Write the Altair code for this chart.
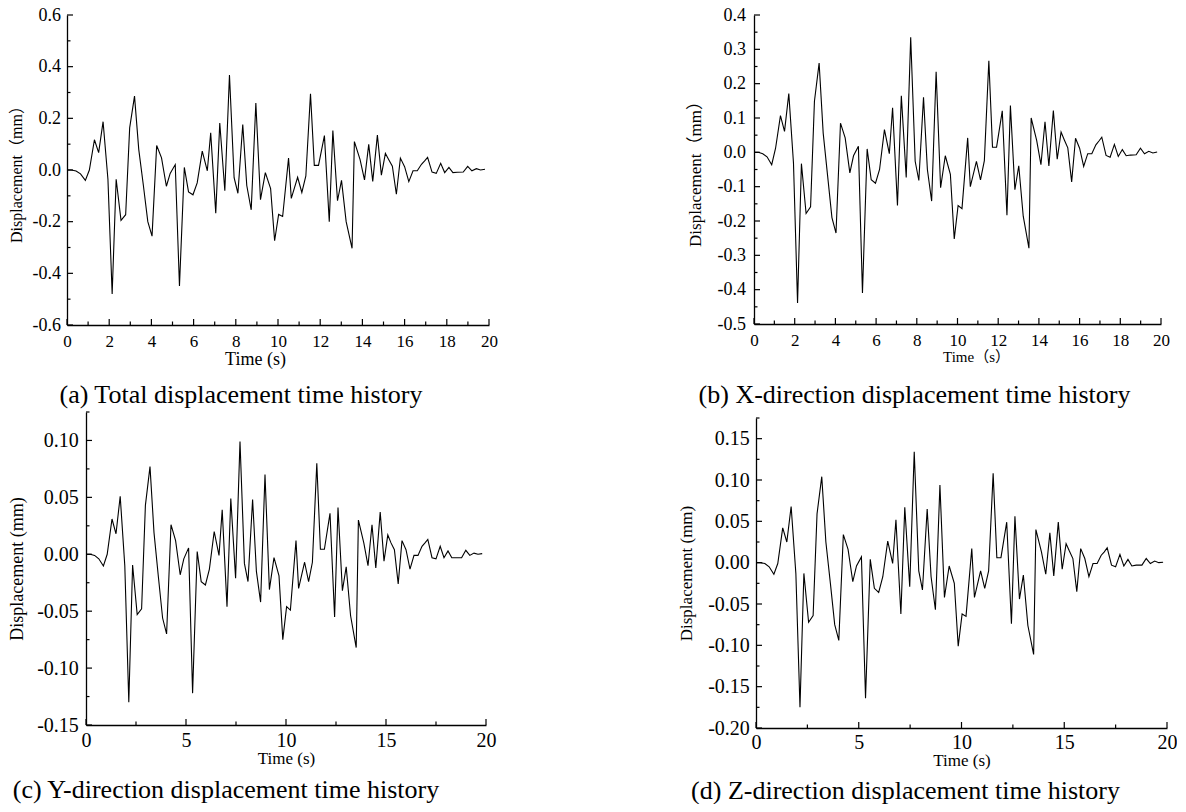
import altair as alt
import pandas as pd

SERIF = "Liberation Serif, Noto Sans CJK SC"

# ---- data ----
TIME = [0.0, 0.21, 0.43, 0.64, 0.87, 1.06, 1.30, 1.50, 1.71, 1.94,
        2.14, 2.33, 2.56, 2.78, 2.97, 3.20, 3.40, 3.62, 3.83, 4.03,
        4.25, 4.48, 4.71, 4.89, 5.13, 5.33, 5.56, 5.76, 5.97, 6.17,
        6.41, 6.65, 6.81, 7.05, 7.24, 7.48, 7.70, 7.92, 8.10, 8.33,
        8.52, 8.73, 8.95, 9.17, 9.40, 9.65, 9.84, 10.03, 10.22, 10.50,
        10.63, 10.93, 11.13, 11.32, 11.54, 11.72, 11.92, 12.20, 12.43, 12.60,
        12.82, 13.01, 13.23, 13.51, 13.62, 13.89, 14.10, 14.30, 14.49, 14.71,
        14.90, 15.09, 15.25, 15.42, 15.61, 15.80, 16.00, 16.20, 16.40, 16.60,
        16.80, 16.95, 17.09, 17.30, 17.50, 17.71, 17.90, 18.10, 18.29, 18.50,
        18.78, 18.99, 19.19, 19.40, 19.60, 19.81]

TOTAL = [0.0, 0.0, -0.004, -0.015, -0.04, 0.0, 0.117, 0.067, 0.187, -0.036,
         -0.48, -0.036, -0.195, -0.173, 0.163, 0.286, 0.08, -0.06, -0.2, -0.256,
         0.095, 0.047, -0.063, -0.013, 0.021, -0.449, 0.01, -0.085, -0.096, -0.05,
         0.073, -0.003, 0.144, -0.167, 0.182, -0.08, 0.368, -0.03, -0.09, 0.176,
         -0.06, -0.154, 0.259, -0.115, -0.01, -0.072, -0.274, -0.172, -0.18, 0.046,
         -0.11, -0.028, -0.087, -0.023, 0.295, 0.018, 0.018, 0.133, -0.2, 0.153,
         -0.119, -0.04, -0.2, -0.303, 0.11, 0.04, -0.038, 0.099, -0.044, 0.135,
         -0.02, 0.064, 0.04, 0.015, -0.094, 0.046, 0.013, -0.045, -0.003, -0.003,
         0.022, 0.035, 0.049, -0.008, -0.013, 0.026, -0.01, 0.01, -0.01, -0.009,
         -0.008, 0.014, -0.003, 0.005, 0.0, 0.003]

X_DIR = [0.0, 0.0, -0.004, -0.013, -0.036, 0.012, 0.107, 0.061, 0.171, -0.031,
         -0.439, -0.033, -0.178, -0.159, 0.149, 0.26, 0.056, -0.07, -0.19, -0.235,
         0.085, 0.042, -0.06, -0.01, 0.018, -0.41, 0.01, -0.08, -0.09, -0.05,
         0.066, -0.004, 0.13, -0.155, 0.165, -0.073, 0.335, -0.026, -0.082, 0.16,
         -0.05, -0.142, 0.235, -0.103, -0.01, -0.064, -0.252, -0.155, -0.164, 0.042,
         -0.1, -0.026, -0.08, -0.024, 0.267, 0.015, 0.015, 0.121, -0.183, 0.136,
         -0.109, -0.039, -0.186, -0.279, 0.1, 0.035, -0.036, 0.089, -0.04, 0.122,
         -0.02, 0.059, 0.036, 0.013, -0.086, 0.041, 0.012, -0.041, -0.004, -0.004,
         0.022, 0.033, 0.044, -0.009, -0.014, 0.023, -0.012, 0.008, -0.01, -0.008,
         -0.007, 0.012, -0.004, 0.003, -0.002, 0.001]

Y_DIR = [0.0, 0.0, -0.001, -0.004, -0.0103, 0.0, 0.031, 0.018, 0.051, -0.01,
         -0.13, -0.0094, -0.053, -0.048, 0.043, 0.077, 0.019, -0.02, -0.056, -0.07,
         0.026, 0.012, -0.018, -0.004, 0.0056, -0.122, 0.0024, -0.024, -0.027, -0.013,
         0.02, -0.001, 0.039, -0.046, 0.049, -0.021, 0.099, -0.008, -0.024, 0.048,
         -0.015, -0.042, 0.07, -0.031, -0.003, -0.019, -0.075, -0.046, -0.049, 0.012,
         -0.03, -0.007, -0.024, -0.007, 0.08, 0.0044, 0.0044, 0.036, -0.055, 0.041,
         -0.032, -0.011, -0.054, -0.082, 0.03, 0.01, -0.01, 0.026, -0.012, 0.037,
         -0.006, 0.017, 0.01, 0.004, -0.026, 0.012, 0.004, -0.013, -0.001, -0.001,
         0.007, 0.01, 0.013, -0.003, -0.004, 0.007, -0.003, 0.003, -0.003, -0.003,
         -0.003, 0.0035, -0.001, 0.001, 0.0, 0.0006]

Z_DIR = [0.0, 0.0, -0.001, -0.005, -0.014, -0.001, 0.042, 0.025, 0.068, -0.013,
         -0.175, -0.013, -0.072, -0.064, 0.059, 0.104, 0.025, -0.025, -0.075, -0.094,
         0.034, 0.016, -0.023, -0.004, 0.007, -0.164, 0.004, -0.031, -0.036, -0.017,
         0.026, -0.001, 0.052, -0.062, 0.067, -0.029, 0.134, -0.01, -0.033, 0.065,
         -0.017, -0.057, 0.094, -0.042, -0.004, -0.025, -0.101, -0.062, -0.065, 0.017,
         -0.042, -0.01, -0.031, -0.01, 0.108, 0.006, 0.006, 0.049, -0.074, 0.056,
         -0.044, -0.015, -0.076, -0.111, 0.04, 0.013, -0.014, 0.036, -0.016, 0.049,
         -0.008, 0.023, 0.014, 0.005, -0.035, 0.017, 0.005, -0.017, -0.001, -0.001,
         0.009, 0.013, 0.018, -0.003, -0.005, 0.01, -0.004, 0.004, -0.004, -0.003,
         -0.003, 0.005, -0.001, 0.002, 0.0, 0.0005]

# tick values
XT_2 = [0, 2, 4, 6, 8, 10, 12, 14, 16, 18, 20]
XT_2_MINOR = [1, 3, 5, 7, 9, 11, 13, 15, 17, 19]
XT_5 = [0, 5, 10, 15, 20]
XT_5_MINOR = [2.5, 7.5, 12.5, 17.5]
YT_A = [-0.6, -0.4, -0.2, 0.0, 0.2, 0.4, 0.6]
YT_A_MINOR = [-0.5, -0.3, -0.1, 0.1, 0.3, 0.5]
YT_B = [-0.5, -0.4, -0.3, -0.2, -0.1, 0.0, 0.1, 0.2, 0.3, 0.4]
YT_B_MINOR = [-0.45, -0.35, -0.25, -0.15, -0.05, 0.05, 0.15, 0.25, 0.35]
YT_C = [-0.15, -0.10, -0.05, 0.0, 0.05, 0.10]
YT_C_MINOR = [-0.125, -0.075, -0.025, 0.025, 0.075, 0.125]
YT_D = [-0.20, -0.15, -0.10, -0.05, 0.0, 0.05, 0.10, 0.15]
YT_D_MINOR = [-0.175, -0.125, -0.075, -0.025, 0.025, 0.075, 0.125, 0.175]

CAPTIONS = ["(a) Total displacement time history",
            "(b) X-direction displacement time history",
            "(c) Y-direction displacement time history",
            "(d) Z-direction displacement time history"]


def panel(vals, w, h, ydom, yt, ytm, xt, xtm, fmt, ytitle, xtitle,
          ylab_fs, ylab_pad, ytitle_fs, ytitle_pad,
          xlab_fs, xlab_pad, xtitle_fs, xtitle_pad, xtitle_x,
          caption, cap_offset, cap_dx):
    xs = alt.Scale(domain=[0, 20], nice=False, zero=False)
    ys = alt.Scale(domain=ydom, nice=False, zero=False)
    label_expr = "replace(format(datum.value, '%s'), '\u2212', '-')" % fmt
    common = dict(ticks=False, grid=False, labelFlush=False, labelOverlap=False,
                  labelFont=SERIF, titleFont=SERIF, titleFontWeight="normal",
                  labelColor="black", titleColor="black",
                  domainColor="black", domainWidth=1.3)
    xaxis_kw = dict(values=xt, labelFontSize=xlab_fs,
                    labelPadding=xlab_pad, title=xtitle, titleFontSize=xtitle_fs,
                    titlePadding=xtitle_pad, **common)
    if xtitle_x is not None:
        xaxis_kw["titleX"] = xtitle_x
    x = alt.X("t:Q", scale=xs, axis=alt.Axis(**xaxis_kw))
    y = alt.Y("v:Q", scale=ys, axis=alt.Axis(
        values=yt, labelFontSize=ylab_fs,
        labelPadding=ylab_pad, labelExpr=label_expr, title=ytitle,
        titleFontSize=ytitle_fs, titlePadding=ytitle_pad, **common))
    df = pd.DataFrame({"t": TIME, "v": vals})
    line = alt.Chart(df).mark_line(color="black", strokeWidth=1.1).encode(x=x, y=y)

    def ytick(values, length):
        return alt.Chart(pd.DataFrame({"v": values})).mark_rule(
            color="black", strokeWidth=1.2).encode(
            y=y, x=alt.value(0), x2=alt.value(length))

    def xtick(values, length):
        return alt.Chart(pd.DataFrame({"t": values})).mark_rule(
            color="black", strokeWidth=1.2).encode(
            x=x, y=alt.value(h), y2=alt.value(h - length))

    layers = [line, ytick(yt, 6), ytick(ytm, 3.5), xtick(xt, 6), xtick(xtm, 3.5)]
    return alt.layer(*layers).properties(
        width=w, height=h,
        title=alt.TitleParams(text=caption, orient="bottom", anchor="middle",
                              fontSize=26, font=SERIF, fontWeight="normal",
                              color="black", offset=cap_offset, dx=cap_dx))


def spacer(w, h):
    return alt.Chart(pd.DataFrame({"s": [0]})).mark_point(opacity=0).encode(
        x=alt.value(0), y=alt.value(0)).properties(width=w, height=h)


pa = panel(TOTAL, 422, 310, [-0.6, 0.6], YT_A, YT_A_MINOR, XT_2, XT_2_MINOR, ".1f",
           "Displacement\uff08mm\uff09", "Time (s)",
           18, 6.6, 16, 7.9, 17, 8, 18, 1, 188,
           CAPTIONS[0], 14, -37)
pb = panel(X_DIR, 407, 309, [-0.5, 0.4], YT_B, YT_B_MINOR, XT_2, XT_2_MINOR, ".1f",
           "Displacement\uff08mm\uff09", "Time\uff08s\uff09",
           18, 8.6, 17, 12.4, 17, 8, 15, 1, 222,
           CAPTIONS[1], 18, -43)
pc = panel(Y_DIR, 400, 313, [-0.15, 0.125], YT_C, YT_C_MINOR, XT_5, XT_5_MINOR, ".2f",
           "Displacement (mm)", "Time (s)",
           20, 7.7, 18, 10, 20, 5.7, 17, 0, None,
           CAPTIONS[2], 10, -60)
pd_ = panel(Z_DIR, 411, 310, [-0.2, 0.175], YT_D, YT_D_MINOR, XT_5, XT_5_MINOR, ".2f",
            "Displacement (mm)", "Time (s)",
            20, 6.7, 17, 12.5, 20, 4, 17, 0, None,
            CAPTIONS[3], 10, -56)

row1 = alt.hconcat(spacer(1, 1), alt.hconcat(pa, pb, spacing=188), spacing=0)
row2 = alt.hconcat(spacer(1, 1),
                   alt.hconcat(pc, alt.vconcat(spacer(1, 5), pd_, spacing=0), spacing=181),
                   spacing=0)

chart = alt.vconcat(row1, row2, spacing=1).properties(
    padding={"left": 2, "top": 6, "right": 0, "bottom": 0},
    background="white",
).configure_view(strokeWidth=0, stroke="transparent")

chart.save("out.html", embed_options={"renderer": "svg", "actions": False})
